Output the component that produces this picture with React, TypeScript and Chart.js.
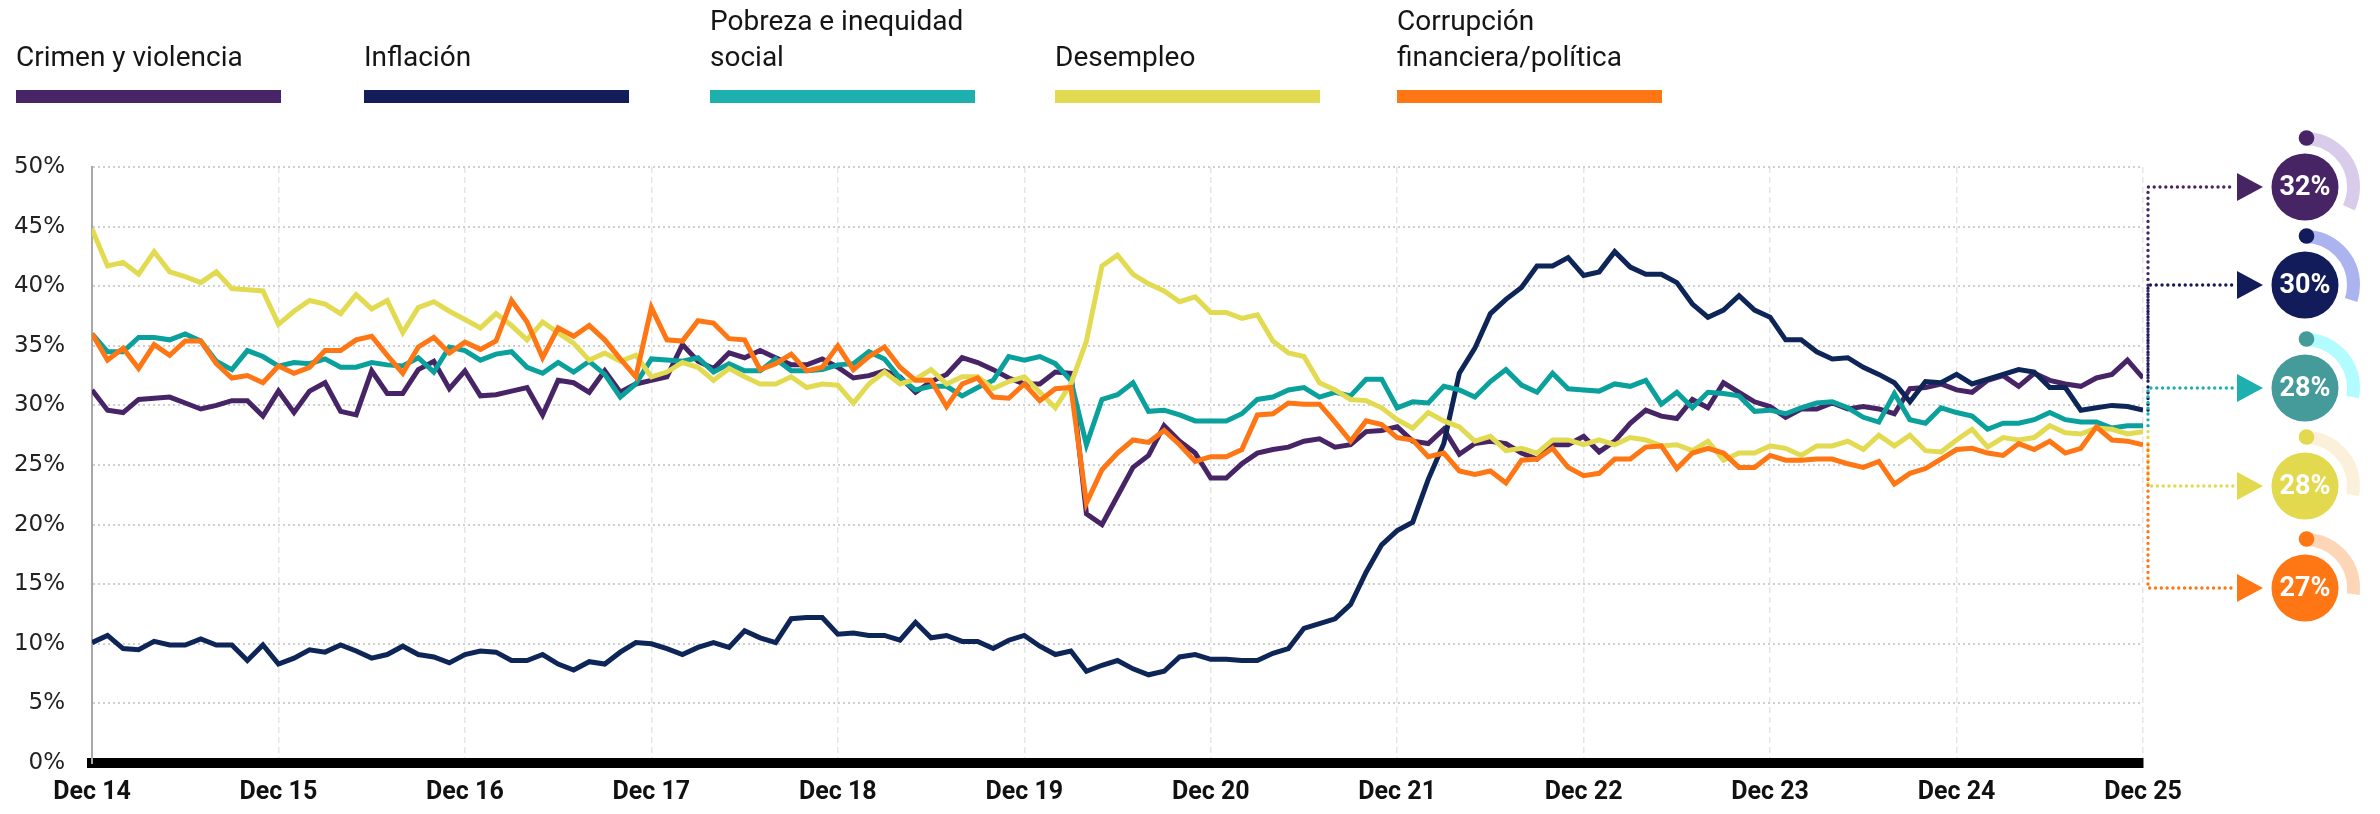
import React, { useEffect, useRef } from 'react';
import { Chart, registerables } from 'chart.js';

Chart.register(...registerables);

// ---- Data (monthly, Dec 2014 – Dec 2025) ----
const yearTicks = ['Dec 14', 'Dec 15', 'Dec 16', 'Dec 17', 'Dec 18', 'Dec 19', 'Dec 20', 'Dec 21', 'Dec 22', 'Dec 23', 'Dec 24', 'Dec 25'];

const legendLines = [
  ['Crimen y violencia'],
  ['Inflación'],
  ['Pobreza e inequidad', 'social'],
  ['Desempleo'],
  ['Corrupción', 'financiera/política'],
];

const crimen = [
  31.3, 29.6, 29.4, 30.5, 30.6, 30.7, 30.2, 29.7, 30.0, 30.4, 30.4, 29.1, 31.2, 29.4, 31.2, 31.9, 29.5, 29.2, 32.9, 31.0, 31.0, 33.0, 33.7, 31.4, 32.9, 30.8, 30.9,
  31.2, 31.5, 29.2, 32.1, 31.9, 31.1, 32.9, 31.1, 31.8, 32.1, 32.4, 35.1, 33.7, 33.1, 34.4, 34.0, 34.6, 34.0, 33.4, 33.4, 33.9, 33.2, 32.3, 32.5, 32.9, 32.4, 31.1,
  32.0, 32.6, 34.0, 33.6, 33.0, 32.3, 31.8, 31.8, 32.8, 32.7, 20.9, 20.0, 22.4, 24.8, 25.8, 28.3, 27.0, 26.0, 23.9, 23.9, 25.1, 26.0, 26.3, 26.5, 27.0, 27.2,
  26.5, 26.7, 27.8, 27.9, 28.2, 27.0, 26.8, 28.0, 25.9, 26.8, 27.0, 26.8, 26.0, 25.5, 26.7, 26.7, 27.4, 26.1, 27.0, 28.5, 29.6, 29.1, 28.9, 30.5, 29.8, 31.9,
  31.1, 30.3, 29.9, 29.0, 29.7, 29.7, 30.2, 29.7, 29.9, 29.7, 29.3, 31.4, 31.5, 31.8, 31.3, 31.1, 32.1, 32.5, 31.6, 32.7, 32.1, 31.8, 31.6, 32.3, 32.6, 33.8, 32.3,
];

const inflacion = [
  10.1, 10.7, 9.6, 9.5, 10.2, 9.9, 9.9, 10.4, 9.9, 9.9, 8.6, 9.9, 8.3, 8.8, 9.5, 9.3, 9.9, 9.4, 8.8, 9.1, 9.8, 9.1, 8.9, 8.4, 9.1, 9.4, 9.3,
  8.6, 8.6, 9.1, 8.3, 7.8, 8.5, 8.3, 9.3, 10.1, 10.0, 9.6, 9.1, 9.7, 10.1, 9.7, 11.1, 10.5, 10.1, 12.1, 12.2, 12.2, 10.8, 10.9, 10.7, 10.7, 10.3, 11.8,
  10.5, 10.7, 10.2, 10.2, 9.6, 10.3, 10.7, 9.8, 9.1, 9.4, 7.7, 8.2, 8.6, 7.9, 7.4, 7.7, 8.9, 9.1, 8.7, 8.7, 8.6, 8.6, 9.2, 9.6, 11.3, 11.7,
  12.1, 13.3, 16.0, 18.3, 19.5, 20.2, 23.8, 26.8, 32.7, 34.8, 37.7, 38.9, 39.9, 41.7, 41.7, 42.4, 40.9, 41.2, 42.9, 41.6, 41.0, 41.0, 40.3, 38.5, 37.4, 38.0,
  39.2, 38.0, 37.4, 35.5, 35.5, 34.5, 33.9, 34.0, 33.2, 32.6, 31.9, 30.3, 32.0, 31.9, 32.6, 31.8, 32.2, 32.6, 33.0, 32.8, 31.5, 31.5, 29.6, 29.8, 30.0, 29.9, 29.6,
];

const pobreza = [
  36.0, 34.5, 34.5, 35.7, 35.7, 35.5, 36.0, 35.4, 33.7, 33.0, 34.6, 34.1, 33.3, 33.6, 33.5, 33.9, 33.2, 33.2, 33.6, 33.4, 33.3, 34.0, 32.8, 34.9, 34.6, 33.8, 34.3,
  34.5, 33.2, 32.7, 33.6, 32.8, 33.7, 32.6, 30.7, 31.8, 33.9, 33.8, 33.7, 34.0, 32.8, 33.5, 32.9, 32.9, 33.9, 32.9, 32.9, 33.0, 33.4, 33.5, 34.5, 33.9, 32.3, 31.3,
  31.6, 31.6, 30.8, 31.5, 32.1, 34.1, 33.8, 34.1, 33.5, 32.1, 26.7, 30.5, 30.9, 31.9, 29.5, 29.6, 29.2, 28.7, 28.7, 28.7, 29.3, 30.5, 30.7, 31.3, 31.5, 30.7,
  31.1, 30.8, 32.2, 32.2, 29.8, 30.3, 30.2, 31.6, 31.3, 30.7, 32.0, 33.0, 31.7, 31.1, 32.7, 31.4, 31.3, 31.2, 31.8, 31.6, 32.1, 30.1, 31.1, 29.8, 31.1, 31.0,
  30.8, 29.5, 29.6, 29.3, 29.8, 30.2, 30.3, 29.8, 29.0, 28.6, 31.0, 28.8, 28.5, 29.8, 29.4, 29.1, 28.0, 28.5, 28.5, 28.8, 29.4, 28.8, 28.6, 28.6, 28.1, 28.3, 28.3,
];

const desempleo = [
  44.8, 41.7, 42.0, 41.0, 42.9, 41.2, 40.8, 40.3, 41.2, 39.8, 39.7, 39.6, 36.8, 37.9, 38.8, 38.5, 37.7, 39.3, 38.1, 38.8, 36.1, 38.2, 38.7, 37.9, 37.2, 36.5, 37.7,
  36.7, 35.5, 37.0, 36.1, 35.2, 33.8, 34.4, 33.7, 34.2, 32.4, 32.8, 33.6, 33.2, 32.1, 33.1, 32.4, 31.8, 31.8, 32.4, 31.5, 31.8, 31.7, 30.2, 31.8, 32.8, 31.8, 32.2,
  33.0, 31.8, 32.4, 32.4, 31.4, 32.0, 32.4, 31.1, 29.8, 31.8, 35.4, 41.7, 42.6, 41.0, 40.2, 39.6, 38.7, 39.1, 37.8, 37.8, 37.3, 37.6, 35.4, 34.4, 34.1, 31.9,
  31.3, 30.5, 30.4, 29.8, 28.8, 28.1, 29.4, 28.7, 28.2, 27.0, 27.4, 26.2, 26.4, 26.0, 27.1, 27.1, 26.7, 27.1, 26.7, 27.3, 27.1, 26.6, 26.7, 26.2, 27.0, 25.4,
  26.0, 26.0, 26.6, 26.4, 25.8, 26.6, 26.6, 27.0, 26.3, 27.5, 26.6, 27.5, 26.2, 26.1, 27.1, 28.0, 26.5, 27.3, 27.1, 27.3, 28.3, 27.7, 27.6, 28.1, 28.0, 27.6, 27.8,
];

const corrupcion = [
  36.0, 33.8, 34.8, 33.1, 35.1, 34.2, 35.4, 35.4, 33.5, 32.3, 32.5, 31.9, 33.3, 32.7, 33.2, 34.6, 34.6, 35.5, 35.8, 34.2, 32.7, 34.9, 35.7, 34.4, 35.3, 34.7, 35.4,
  38.8, 37.0, 34.0, 36.5, 35.8, 36.7, 35.5, 33.9, 32.4, 38.2, 35.5, 35.4, 37.1, 36.9, 35.6, 35.5, 33.0, 33.5, 34.3, 32.9, 33.2, 35.0, 33.0, 34.1, 34.9, 33.2, 32.1,
  32.1, 29.9, 31.8, 32.3, 30.7, 30.6, 31.8, 30.4, 31.4, 31.5, 21.8, 24.6, 26.0, 27.1, 26.9, 27.9, 26.7, 25.3, 25.7, 25.7, 26.3, 29.2, 29.3, 30.2, 30.1, 30.1,
  28.6, 27.0, 28.7, 28.4, 27.3, 27.1, 25.7, 26.0, 24.5, 24.2, 24.5, 23.5, 25.4, 25.5, 26.4, 24.8, 24.1, 24.3, 25.5, 25.5, 26.5, 26.6, 24.7, 26.0, 26.4, 26.0,
  24.8, 24.8, 25.8, 25.4, 25.4, 25.5, 25.5, 25.1, 24.8, 25.3, 23.4, 24.3, 24.7, 25.5, 26.3, 26.4, 26.0, 25.8, 26.8, 26.3, 27.0, 26.0, 26.4, 28.2, 27.1, 27.0, 26.7,
];

const seriesData = [crimen, inflacion, pobreza, desempleo, corrupcion];

// ---- Styles ----
const lineColors = ['#472466', '#0E2558', '#0AA09C', '#E2DA50', '#FF7614'];
const legendColors = ['#482567', '#121D5A', '#1EB0AF', '#E2DA50', '#FF7614'];
const circleColors = ['#472565', '#131C5B', '#459A9A', '#E2D94F', '#FF7715'];
const arcColors = ['#D9CCEB', '#ABB4EE', '#B2FBFF', '#FBF0DA', '#FDD5B7'];
const arrowColors = ['#472565', '#131C5B', '#1EB0AF', '#E2D94F', '#FF7715'];
const labelYs = [187, 285, 388, 486, 588];
const legendX = [16, 364, 710, 1055, 1397];
const FONT = 'Roboto, "Noto Sans", sans-serif';
const TICK_FONT = '"DejaVu Sans", Roboto, sans-serif';

const endLabelsPlugin = {
  id: 'endLabels',
  afterDatasetsDraw(chart: any) {
    const ctx = chart.ctx;
    const area = chart.chartArea;
    const vx = area.right + 5;
    const cx = 2305;
    for (let i = 0; i < seriesData.length; i++) {
      const meta = chart.getDatasetMeta(i);
      const pt = meta.data[meta.data.length - 1];
      const ly = labelYs[i];
      const arr = seriesData[i];
      const pct = Math.round(arr[arr.length - 1]);

      // dotted connector
      ctx.save();
      ctx.strokeStyle = arrowColors[i];
      ctx.lineWidth = 3.4;
      ctx.lineCap = 'round';
      ctx.setLineDash([0, 5.8]);
      ctx.beginPath();
      ctx.moveTo(vx, pt.y);
      ctx.lineTo(vx, ly);
      ctx.lineTo(2234, ly);
      ctx.stroke();
      ctx.restore();

      // arrow
      ctx.save();
      ctx.fillStyle = arrowColors[i];
      ctx.beginPath();
      ctx.moveTo(2237, ly - 14);
      ctx.lineTo(2263, ly);
      ctx.lineTo(2237, ly + 14);
      ctx.closePath();
      ctx.fill();

      // progress arc
      ctx.strokeStyle = arcColors[i];
      ctx.lineWidth = 13;
      ctx.lineCap = 'butt';
      ctx.beginPath();
      ctx.arc(cx, ly, 48.5, -Math.PI / 2, -Math.PI / 2 + (pct / 100) * Math.PI * 2);
      ctx.stroke();

      // start dot
      ctx.fillStyle = circleColors[i];
      ctx.beginPath();
      ctx.arc(cx + 1.5, ly - 49, 7.8, 0, Math.PI * 2);
      ctx.fill();

      // circle
      ctx.beginPath();
      ctx.arc(cx, ly, 33.5, 0, Math.PI * 2);
      ctx.fill();

      ctx.fillStyle = '#ffffff';
      ctx.font = `bold 27px ${FONT}`;
      ctx.textAlign = 'center';
      ctx.textBaseline = 'middle';
      ctx.fillText(pct + '%', cx, ly + 1);
      ctx.restore();
    }
  },
};

export default function App() {
  const canvasRef = useRef<HTMLCanvasElement | null>(null);

  useEffect(() => {
    const canvas = canvasRef.current;
    if (!canvas) return;
    const datasets = seriesData.map((arr, i) => ({
      label: legendLines[i].join(' '),
      data: arr.map((v, k) => ({ x: k, y: v })),
      borderColor: lineColors[i],
      backgroundColor: lineColors[i],
      borderWidth: 5,
      pointRadius: 0,
      tension: 0,
      fill: false,
      order: 5 - i,
    }));

    const chart = new Chart(canvas, {
      type: 'line',
      data: { datasets },
      options: {
        responsive: false,
        maintainAspectRatio: false,
        animation: false,
        devicePixelRatio: 1,
        layout: { padding: { left: 0, top: 167, right: 237, bottom: 0 } },
        plugins: { legend: { display: false }, tooltip: { enabled: false } },
        scales: {
          x: {
            type: 'linear',
            min: 0,
            max: 132,
            afterFit: (s: any) => { s.height = 51; },
            ticks: {
              stepSize: 12,
              autoSkip: false,
              maxRotation: 0,
              padding: 15,
              color: '#111',
              font: { family: FONT, size: 25, weight: 'bold' },
              callback: (v: any) => yearTicks[Math.round(Number(v) / 12)] ?? '',
            },
            grid: { color: '#e6e6e6', lineWidth: 1.5, drawTicks: false },
            border: { display: true, color: '#000', width: 10, dash: [6, 4] },
          },
          y: {
            type: 'linear',
            min: 0,
            max: 50,
            afterFit: (s: any) => { s.width = 92; },
            ticks: {
              stepSize: 5,
              padding: 27,
              color: '#222',
              font: { family: TICK_FONT, size: 23 },
              callback: (v: any) => v + '%',
            },
            grid: { color: '#cfcfcf', lineWidth: 2, drawTicks: false },
            border: { display: true, color: '#a8a8a8', width: 2, dash: [2, 3] },
          },
        },
      },
      plugins: [endLabelsPlugin],
    } as any);
    return () => chart.destroy();
  }, []);

  return (
    <div style={{ position: 'absolute', left: 0, top: 0, width: 2380, height: 814, background: '#fff', overflow: 'hidden' }}>
      <canvas ref={canvasRef} width={2380} height={814} style={{ position: 'absolute', left: 0, top: 0, width: 2380, height: 814 }} />
      {legendLines.map((lines, i) => (
        <div key={i}>
          <div
            style={{
              position: 'absolute',
              left: legendX[i],
              top: 0,
              width: 330,
              height: 75,
              display: 'flex',
              flexDirection: 'column',
              justifyContent: 'flex-end',
              fontFamily: FONT,
              fontSize: 28,
              lineHeight: '36px',
              color: '#151515',
              whiteSpace: 'nowrap',
            }}
          >
            {lines.map((t, j) => (
              <div key={j}>{t}</div>
            ))}
          </div>
          <div style={{ position: 'absolute', left: legendX[i], top: 90, width: 265, height: 13, background: legendColors[i] }} />
        </div>
      ))}
    </div>
  );
}
